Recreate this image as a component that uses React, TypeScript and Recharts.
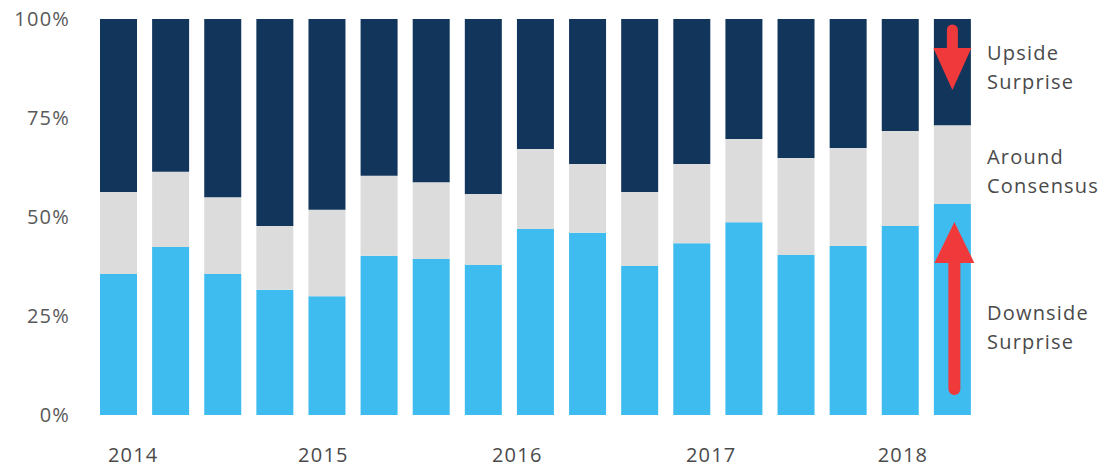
import { BarChart, Bar, XAxis, YAxis, Rectangle } from 'recharts';

// one bar per reporting period
const periods = ['p01', 'p02', 'p03', 'p04', 'p05', 'p06', 'p07', 'p08', 'p09', 'p10', 'p11', 'p12', 'p13', 'p14', 'p15', 'p16', 'p17'];
const downside = [35.6, 42.4, 35.6, 31.6, 30.0, 40.2, 39.4, 37.9, 47.0, 46.0, 37.6, 43.4, 48.7, 40.4, 42.7, 47.7, 53.3];
const around = [20.7, 19.0, 19.4, 16.1, 21.8, 20.2, 19.4, 17.9, 20.2, 17.4, 18.7, 20.0, 21.0, 24.5, 24.7, 24.0, 19.9];
const upside = [43.7, 38.6, 45.0, 52.3, 48.2, 39.6, 41.2, 44.2, 32.8, 36.6, 43.7, 36.6, 30.3, 35.1, 32.6, 28.3, 26.8];

const percentTicks = [0, 25, 50, 75, 100];
// year labels sit near (not on) these bars; shift is in fractions of a bar slot
const yearPeriods = ['p01', 'p05', 'p09', 'p12', 'p16'];
const yearLabels = ['2014', '2015', '2016', '2017', '2018'];
const yearShift = [0.29, -0.06, -0.34, 0.38, 0.06];

const data = periods.map((period, i) => ({
  period,
  downside: downside[i],
  around: around[i],
  upside: upside[i],
}));

const LAST = periods.length - 1;
const FONT = "'Open Sans', 'Noto Sans', sans-serif";
const RED = '#f0393b';
const SLOT = 52.2;

const YearTick = (props: any) => {
  const { x, y, payload } = props;
  const k = yearPeriods.indexOf(payload.value);
  if (k < 0) return null;
  return (
    <text
      x={x + yearShift[k] * SLOT}
      y={y + 45}
      textAnchor="middle"
      fill="#4a4a4a"
      fontSize={20}
      letterSpacing={1.2}
      fontFamily={FONT}
    >
      {yearLabels[k]}
    </text>
  );
};

const DownsideShape = (props: any) => {
  const { x, y, width, height, index } = props;
  const cx = x + width / 2 + 2;
  return (
    <g>
      <Rectangle {...props} />
      {index === LAST && (
        <g>
          <line x1={cx} y1={y + 50} x2={cx} y2={y + height - 26} stroke={RED} strokeWidth={12} strokeLinecap="round" />
          <polygon points={`${cx},${y + 18} ${cx - 20},${y + 59} ${cx + 20},${y + 59}`} fill={RED} />
        </g>
      )}
    </g>
  );
};

const UpsideShape = (props: any) => {
  const { x, y, width, index } = props;
  const cx = x + width / 2;
  return (
    <g>
      <Rectangle {...props} />
      {index === LAST && (
        <g>
          <line x1={cx} y1={y + 11} x2={cx} y2={y + 35} stroke={RED} strokeWidth={11} strokeLinecap="round" />
          <polygon points={`${cx - 19},${y + 29} ${cx + 19},${y + 29} ${cx},${y + 71}`} fill={RED} />
        </g>
      )}
    </g>
  );
};

const sideLabel = (top: number, lines: string[]) => (
  <div
    style={{
      position: 'absolute',
      left: 987,
      top,
      fontFamily: FONT,
      fontSize: 20,
      letterSpacing: 1.2,
      lineHeight: '29px',
      color: '#4a4a4a',
      whiteSpace: 'nowrap',
    }}
  >
    {lines.map((l) => (
      <div key={l}>{l}</div>
    ))}
  </div>
);

export default function App() {
  return (
    <div style={{ position: 'absolute', left: 0, top: 0, width: 1107, height: 469, background: '#fff', overflow: 'hidden' }}>
      <BarChart
        width={1107}
        height={469}
        data={data}
        margin={{ top: 19, right: 129, left: 12, bottom: 0 }}
        barSize={37}
      >
        <XAxis
          dataKey="period"
          ticks={yearPeriods}
          interval={0}
          axisLine={false}
          tickLine={false}
          tickSize={0}
          height={54}
          tick={YearTick}
        />
        <YAxis
          width={80}
          domain={[0, 100]}
          ticks={percentTicks}
          interval={0}
          tickFormatter={(v) => `${v}%`}
          axisLine={false}
          tickLine={false}
          tickSize={0}
          tickMargin={22}
          tick={{ fill: '#595959', fontSize: 20, letterSpacing: 1.2, fontFamily: FONT }}
        />
        <Bar dataKey="downside" stackId="s" fill="#3ebcef" shape={DownsideShape} isAnimationActive={false} />
        <Bar dataKey="around" stackId="s" fill="#dcdcdc" isAnimationActive={false} />
        <Bar dataKey="upside" stackId="s" fill="#12355b" shape={UpsideShape} isAnimationActive={false} />
      </BarChart>
      {sideLabel(38, ['Upside', 'Surprise'])}
      {sideLabel(142, ['Around', 'Consensus'])}
      {sideLabel(298, ['Downside', 'Surprise'])}
    </div>
  );
}
